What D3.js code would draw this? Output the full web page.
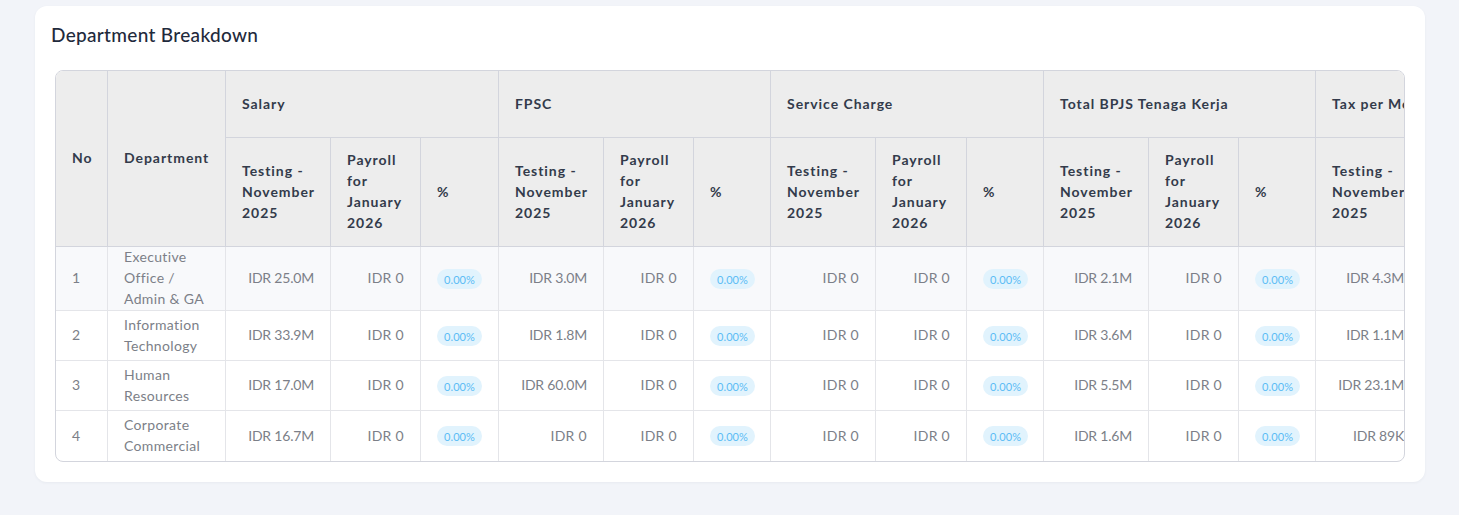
<!DOCTYPE html>
<html><head><meta charset="utf-8">
<script src="https://cdn.jsdelivr.net/npm/d3@7"></script>
<style>
html,body{margin:0;padding:0;background:#f2f4f9;width:1459px;height:515px;overflow:hidden}
body{font-family:Lato,"Open Sans",sans-serif}
#card{position:absolute;left:35px;top:6px;width:1390px;height:476px;background:#fff;border-radius:12px;box-shadow:0 1px 3px rgba(40,50,80,.05)}
#title{position:absolute;left:16px;top:17px;margin:0;font-size:19px;line-height:24px;font-weight:500;color:#1f2a3c;letter-spacing:.32px;white-space:nowrap}
#wrap{position:absolute;left:20px;top:64px;width:1348px;height:390px;border:1px solid #d3d5dd;border-radius:8px;overflow:hidden}
table{border-collapse:separate;border-spacing:0;table-layout:fixed;position:absolute;left:0;top:0}
th,td{box-sizing:border-box;padding:0 16px;font-size:14px;line-height:21px;white-space:nowrap;overflow:visible;vertical-align:middle}
th{padding-bottom:2px;background:#ededed;color:#333b4b;font-weight:700;text-align:left;letter-spacing:.95px;border-right:1px solid #d3d5dd;border-bottom:1px solid #d3d5dd}
td{color:#7c7f88;font-weight:400;border-right:1px solid #e4e5e9;border-bottom:1px solid #e4e5e9;letter-spacing:.35px}
td.num{text-align:right;letter-spacing:-.2px}
td.zero{text-align:right;letter-spacing:.3px}
td .in{position:relative;top:-1px}
tr.last td{border-bottom:none}
tbody tr.first td{background:#f8f9fb}
.pill{display:inline-block;width:45px;height:20px;line-height:21px;border-radius:10px;background:#e1f3fd;color:#5bbcf5;font-size:11px;text-align:center;letter-spacing:.1px;vertical-align:middle}
</style></head><body>
<div id="card"><h3 id="title"></h3><div id="wrap"><table id="t"><colgroup></colgroup><thead></thead><tbody></tbody></table></div></div>
<script>
const titleText = "Department Breakdown";
const groups = ["Salary","FPSC","Service Charge","Total BPJS Tenaga Kerja","Tax per Month"];
const subHeaders = [["Testing -","November","2025"],["Payroll","for","January","2026"],["%"]];
const rowNumbers = [1,2,3,4];
const departments = [["Executive","Office /","Admin & GA"],["Information","Technology"],["Human","Resources"],["Corporate","Commercial"]];
const salaryTesting = ["IDR 25.0M","IDR 33.9M","IDR 17.0M","IDR 16.7M"];
const fpscTesting = ["IDR 3.0M","IDR 1.8M","IDR 60.0M","IDR 0"];
const serviceTesting = ["IDR 0","IDR 0","IDR 0","IDR 0"];
const bpjsTesting = ["IDR 2.1M","IDR 3.6M","IDR 5.5M","IDR 1.6M"];
const taxTesting = ["IDR 4.3M","IDR 1.1M","IDR 23.1M","IDR 89K"];
const payrollValue = "IDR 0";
const percentValue = "0.00%";
const groupTesting = [salaryTesting,fpscTesting,serviceTesting,bpjsTesting,taxTesting];

// layout only
const colWidths = [52,118,105,90,78,105,90,77,105,91,77,105,90,77,105];
const rowHeights = [64,50,50,50];

const lines = (sel, arr) => sel.selectAll("div").data(arr).join("div").text(d=>d);
const inner = td => td.append("div").attr("class","in");
// the last group runs past the table's scrolling edge: only its first column shows
const spanOf = g => g === groups[groups.length-1] ? 1 : 3;
d3.select("#title").text(titleText);
const table = d3.select("#t").style("width", d3.sum(colWidths)+"px");
table.select("colgroup").selectAll("col").data(colWidths).join("col").style("width",d=>d+"px");

const head = table.select("thead");
const r1 = head.append("tr").style("height","67px");
r1.append("th").attr("rowspan",2).text("No");
r1.append("th").attr("rowspan",2).text("Department");
r1.selectAll("th.g").data(groups).join("th").attr("class","g").attr("colspan",spanOf).text(d=>d);
const r2 = head.append("tr").style("height","109px");
r2.selectAll("th").data(groups.flatMap(g=>subHeaders.slice(0,spanOf(g)))).join("th").each(function(d){lines(d3.select(this),d)});

const cellClass = v => v === payrollValue ? "zero" : "num";
const body = table.select("tbody");
rowNumbers.forEach((n,i)=>{
  const tr = body.append("tr").style("height",rowHeights[i]+"px")
    .classed("first",i===0).classed("last",i===rowNumbers.length-1);
  inner(tr.append("td")).text(n);
  lines(inner(tr.append("td")),departments[i]);
  groupTesting.forEach((vals,k)=>{
    inner(tr.append("td").attr("class",cellClass(vals[i]))).text(vals[i]);
    if (spanOf(groups[k]) === 3) {
      inner(tr.append("td").attr("class","zero")).text(payrollValue);
      inner(tr.append("td")).append("span").attr("class","pill").text(percentValue);
    }
  });
});
</script></body></html>
